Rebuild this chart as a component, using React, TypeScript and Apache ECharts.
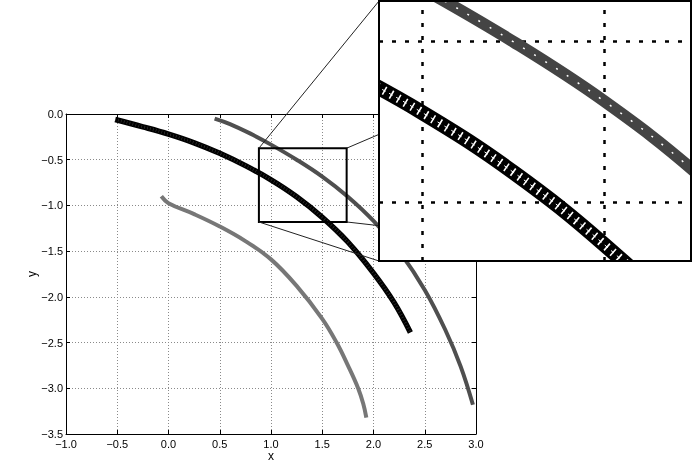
import { useEffect, useRef } from 'react';
import * as echarts from 'echarts';

// Curve centre lines
const blackX = [-0.52, -0.25, 0.0, 0.25, 0.5, 0.75, 1.0, 1.25, 1.5, 1.75, 2.0, 2.2, 2.36];
const blackY = [-0.06, -0.14, -0.22, -0.315, -0.43, -0.565, -0.72, -0.905, -1.13, -1.4, -1.74, -2.06, -2.39];

const grayX = [0.45, 0.6, 0.8, 1.0, 1.25, 1.5, 1.75, 2.0, 2.25, 2.5, 2.7, 2.85, 2.97];
const grayY = [-0.05, -0.11, -0.215, -0.335, -0.5, -0.685, -0.905, -1.17, -1.5, -1.925, -2.36, -2.76, -3.18];

const lightX = [-0.07, 0.0, 0.25, 0.5, 0.75, 1.0, 1.25, 1.5, 1.64, 1.75, 1.85, 1.9, 1.93];
const lightY = [-0.9, -0.975, -1.095, -1.23, -1.39, -1.59, -1.88, -2.24, -2.5, -2.75, -3.0, -3.17, -3.32];

// Axis ranges
const mainX = [-1, 3];
const mainY = [-3.5, 0];
const tickStep = 0.5;
const zoomX = [0.882, 1.738];
const zoomY = [-1.181, -0.374];
const zoomGridX = [1.0, 1.5];
const zoomGridY = [-0.5, -1.0];

const pts = (xs: number[], ys: number[]) => xs.map((x, i) => [x, ys[i]]);

const FONT = 'Liberation Sans, Arial, sans-serif';
const fmt = (v: number) => v.toFixed(1).replace('-', '\u2212');

export default function App() {
  const ref = useRef<HTMLDivElement>(null);
  useEffect(() => {
    document.body.style.margin = '0';
    const chart = echarts.init(ref.current!, null, { renderer: 'svg' });

    const mainGrid = { left: 66, top: 114, width: 410, height: 320 };
    const inset = { left: 379, top: 1, width: 312, height: 260 };

    const black = pts(blackX, blackY);
    const gray = pts(grayX, grayY);
    const light = pts(lightX, lightY);

    const lineBase = { type: 'line', showSymbol: false, smooth: 0.4, silent: true };

    const mainAxisCommon = {
      interval: tickStep,
      axisLine: { show: true, onZero: false, lineStyle: { color: '#000', width: 1 } },
      axisTick: { show: true, inside: true, length: 4, lineStyle: { color: '#000' } },
    };

    const option: any = {
      animation: false,
      grid: [
        { ...mainGrid },
        { ...inset },
      ],
      xAxis: [
        {
          ...mainAxisCommon,
          type: 'value', gridIndex: 0, min: mainX[0], max: mainX[1], position: 'bottom',
          name: 'x', nameLocation: 'middle', nameGap: 16, nameMoveOverlap: false,
          nameTextStyle: { color: '#000', fontSize: 12, fontFamily: FONT },
          axisLabel: { color: '#000', fontSize: 11, fontFamily: FONT, margin: 4, formatter: fmt },
          splitLine: { show: true, lineStyle: { color: '#8a8a8a', width: 1, type: [1, 2] } },
        },
        {
          ...mainAxisCommon,
          type: 'value', gridIndex: 0, min: mainX[0], max: mainX[1], position: 'top',
          axisLabel: { show: false }, splitLine: { show: false },
        },
        {
          type: 'value', gridIndex: 1, min: zoomX[0], max: zoomX[1], z: 9,
          axisLine: { show: false }, axisTick: { show: false }, axisLabel: { show: false },
          splitLine: { show: false },
        },
      ],
      yAxis: [
        {
          ...mainAxisCommon,
          type: 'value', gridIndex: 0, min: mainY[0], max: mainY[1], position: 'left',
          name: 'y', nameLocation: 'middle', nameGap: 28, nameRotate: 90, nameMoveOverlap: false,
          nameTextStyle: { color: '#000', fontSize: 12, fontFamily: FONT },
          axisLabel: { color: '#000', fontSize: 11, fontFamily: FONT, margin: 3, formatter: fmt },
          splitLine: { show: true, lineStyle: { color: '#8a8a8a', width: 1, type: [1, 2] } },
        },
        {
          ...mainAxisCommon,
          type: 'value', gridIndex: 0, min: mainY[0], max: mainY[1], position: 'right',
          axisLabel: { show: false }, splitLine: { show: false },
        },
        {
          type: 'value', gridIndex: 1, min: zoomY[0], max: zoomY[1], z: 9,
          axisLine: { show: false }, axisTick: { show: false }, axisLabel: { show: false },
          splitLine: { show: false },
        },
      ],
      series: [
        // main plot
        { ...lineBase, xAxisIndex: 0, yAxisIndex: 0, data: light, z: 2,
          lineStyle: { color: '#777777', width: 4, cap: 'butt' } },
        { ...lineBase, xAxisIndex: 0, yAxisIndex: 0, data: gray, z: 2,
          lineStyle: { color: '#4f4f4f', width: 4, cap: 'butt' } },
        { ...lineBase, xAxisIndex: 0, yAxisIndex: 0, data: black, z: 2,
          lineStyle: { color: '#000', width: 5.5, cap: 'butt' } },
        { ...lineBase, xAxisIndex: 0, yAxisIndex: 0, data: black, z: 3,
          lineStyle: { color: '#fff', width: 3, opacity: 0.22, type: [0.6, 2.4], cap: 'butt' } },
        // inset grid lines
        { type: 'line', xAxisIndex: 2, yAxisIndex: 2, data: [], z: 9, silent: true,
          markLine: {
            silent: true, symbol: ['none', 'none'], z: 9, animation: false,
            label: { show: false },
            lineStyle: { color: '#000', width: 2.5, type: [4, 9] },
            data: [
              ...zoomGridX.map((v) => ({ xAxis: v })),
              ...zoomGridY.map((v) => ({ yAxis: v })),
            ],
          } },
        // inset curves
        { ...lineBase, xAxisIndex: 2, yAxisIndex: 2, data: light, z: 10,
          lineStyle: { color: '#777777', width: 12, cap: 'butt' } },
        { ...lineBase, xAxisIndex: 2, yAxisIndex: 2, data: gray, z: 10,
          lineStyle: { color: '#444444', width: 12, cap: 'butt' } },
        { ...lineBase, xAxisIndex: 2, yAxisIndex: 2, data: gray, z: 11,
          lineStyle: { color: '#ffffff', width: 1.5, type: [2, 11], cap: 'butt' } },
        { ...lineBase, xAxisIndex: 2, yAxisIndex: 2, data: black, z: 10,
          lineStyle: { color: '#000', width: 15, cap: 'butt' } },
        { ...lineBase, xAxisIndex: 2, yAxisIndex: 2, data: black, z: 11,
          lineStyle: { color: '#fff', width: 9, type: [1.6, 6.4], cap: 'butt' } },
        { ...lineBase, xAxisIndex: 2, yAxisIndex: 2, data: black, z: 11,
          lineStyle: { color: '#fff', width: 1, type: [4, 4], dashOffset: 2, cap: 'butt' } },
      ],
    };
    chart.setOption(option);

    const tl = chart.convertToPixel({ gridIndex: 0 }, [zoomX[0], zoomY[1]]) as number[];
    const br = chart.convertToPixel({ gridIndex: 0 }, [zoomX[1], zoomY[0]]) as number[];
    const iL = inset.left, iT = inset.top, iR = inset.left + inset.width, iB = inset.top + inset.height;
    const mainTop = mainGrid.top, mainRight = mainGrid.left + mainGrid.width;
    const conn = (x1: number, y1: number, x2: number, y2: number, z: number) => ({
      type: 'line', z, silent: true,
      shape: { x1, y1, x2, y2 },
      style: { stroke: '#222', lineWidth: 1 },
    });
    chart.setOption({
      graphic: [
        conn(tl[0], tl[1], iL, iT, 16),
        conn(br[0], tl[1], iR, iT, 5),
        conn(tl[0], br[1], iL, iB, 16),
        conn(br[0], br[1], iR, iB, 5),
        { type: 'rect', z: 6, silent: true,
          shape: { x: tl[0], y: tl[1], width: br[0] - tl[0], height: br[1] - tl[1] },
          style: { fill: 'none', stroke: '#000', lineWidth: 2 } },
        { type: 'rect', z: 8, silent: true,
          shape: { x: iL, y: iT, width: inset.width, height: inset.height },
          style: { fill: '#fff', stroke: 'none' } },
        // mask the inset curves' overflow beyond the inset frame (outside the main plot)
        { type: 'rect', z: 15, silent: true,
          shape: { x: iL - 12, y: 0, width: 12, height: mainTop - 1 },
          style: { fill: '#fff', stroke: 'none' } },
        { type: 'rect', z: 15, silent: true,
          shape: { x: mainRight + 1, y: iB, width: iR - mainRight + 4, height: 14 },
          style: { fill: '#fff', stroke: 'none' } },
        { type: 'rect', z: 20, silent: true,
          shape: { x: iL, y: iT, width: inset.width, height: inset.height },
          style: { fill: 'none', stroke: '#000', lineWidth: 2 } },
      ],
    });

    return () => chart.dispose();
  }, []);

  return <div ref={ref} style={{ position: 'fixed', left: 0, top: 0, width: 692, height: 474 }} />;
}
